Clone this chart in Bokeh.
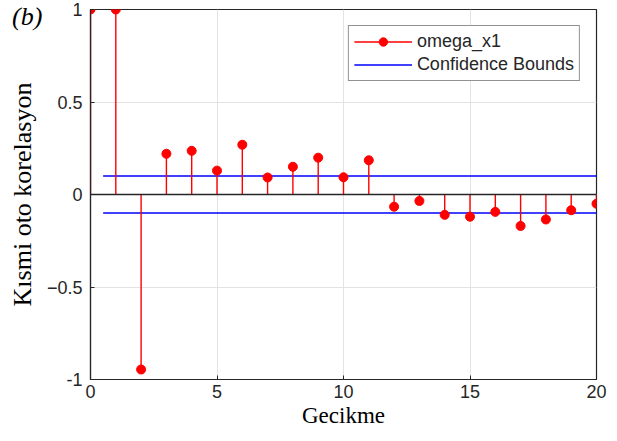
from bokeh.plotting import figure
from bokeh.models import Range1d, Span, Legend, LegendItem, FixedTicker, Label, Div
from bokeh.layouts import column
from bokeh.embed import file_html
from bokeh.resources import INLINE

lags = list(range(0, 21))
pacf = [1.0, 1.0, -0.946, 0.22, 0.236, 0.129, 0.269, 0.092, 0.15, 0.199, 0.093,
        0.185, -0.066, -0.035, -0.11, -0.12, -0.094, -0.17, -0.135, -0.085, -0.05]
bound = 0.1
bound_x = [0.5, 20.5]
x_ticks = [0, 5, 10, 15, 20]
y_ticks = [-1, -0.5, 0, 0.5, 1]
series_name = "omega_x1"
bounds_name = "Confidence Bounds"
x_title = "Gecikme"
y_title = "Kısmi oto korelasyon"
panel_tag = "(b)"

AX = "#262626"
p = figure(width=617, height=441, output_backend="svg", toolbar_location=None,
           x_range=Range1d(0, 20), y_range=Range1d(-1, 1),
           min_border_left=90, min_border_right=21, min_border_top=9, min_border_bottom=62)
p.outline_line_color = AX
p.outline_line_width = 1.2
p.background_fill_color = "white"
p.border_fill_color = "white"

bottom_ax = p.below[0]
left_ax = p.left[0]
for ax in (bottom_ax, left_ax):
    ax.major_label_text_font = "Liberation Sans"
    ax.major_label_text_color = AX
    ax.major_label_text_font_size = "18px"
    ax.axis_line_color = AX
    ax.axis_line_width = 1.2
    ax.major_tick_in = 4
    ax.major_tick_out = 0
    ax.minor_tick_line_color = None
    ax.major_tick_line_color = AX
    ax.axis_label_text_font = "Liberation Serif"
    ax.axis_label_text_font_style = "normal"
    ax.axis_label_text_color = "black"
bottom_ax.ticker = FixedTicker(ticks=x_ticks)
left_ax.ticker = FixedTicker(ticks=y_ticks)
left_ax.major_label_overrides = {1: "1", -1: "-1", 0: "0"}
bottom_ax.major_label_standoff = 5
left_ax.major_label_standoff = 8
bottom_ax.axis_label = x_title
left_ax.axis_label = y_title
bottom_ax.axis_label_text_font_size = "23px"
left_ax.axis_label_text_font_size = "26px"
bottom_ax.axis_label_standoff = 2
left_ax.axis_label_standoff = 7

p.xgrid.ticker = FixedTicker(ticks=x_ticks)
p.ygrid.ticker = FixedTicker(ticks=y_ticks)
p.grid.grid_line_color = "#e3e3e3"
p.grid.grid_line_width = 1

p.add_layout(Span(location=0, dimension="width", line_color=AX, line_width=1.3))

upper = p.line(x=bound_x, y=[bound, bound], line_color="#0000ff", line_width=1.3)
lower = p.line(x=bound_x, y=[-bound, -bound], line_color="#0000ff", line_width=1.3)

stems = p.segment(x0=lags, y0=[0] * len(lags), x1=lags, y1=pacf, line_color="#ff0000", line_width=1.4)
dots = p.scatter(x=lags, y=pacf, size=9, marker="circle", fill_color="#ff0000", line_color="#ff0000")

legend = Legend(items=[LegendItem(label=series_name, renderers=[stems, dots]),
                       LegendItem(label=bounds_name, renderers=[upper])],
                location="top_right", margin=16)
legend.border_line_color = AX
legend.border_line_width = 1
legend.label_text_font = "Liberation Sans"
legend.label_text_font_size = "18px"
legend.label_text_color = AX
legend.glyph_width = 58
legend.glyph_height = 21
legend.label_height = 21
legend.spacing = 2
legend.padding = 5
legend.label_standoff = 5
p.add_layout(legend)

# panel tag in the plot's SVG, left of the frame (screen px relative to the frame)
p.add_layout(Label(x=-61, y=361, x_units="screen", y_units="screen", text=panel_tag,
                   text_font="Liberation Serif", text_font_style="italic",
                   text_font_size="26px", text_color="black", level="overlay",
                   text_align="center", text_baseline="middle"))

# Bokeh clips annotations to the frame, so the tag is also shown as an overlaid HTML element
tag = Div(text='<span style="font-family:\'Liberation Serif\';font-style:italic;'
               'font-size:26px;color:black;line-height:30px;">' + panel_tag + '</span>',
          width=44, height=30, margin=(2, 0, -32, 12),
          styles={"position": "relative", "z-index": "10"})

layout = column(tag, p, spacing=0)
open("out.html", "w").write(file_html(layout, INLINE))
